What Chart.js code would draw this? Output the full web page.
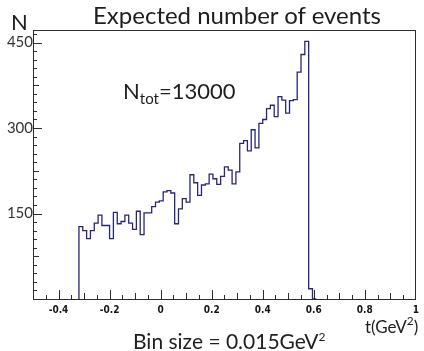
<!DOCTYPE html>
<html>
<head>
<meta charset="utf-8">
<script src="https://cdn.jsdelivr.net/npm/chart.js@4"></script>
<style>
body { margin: 0; background: #fff; }
#wrap { position: relative; width: 424px; height: 351px; font-family: Lato, sans-serif; color: #1e1e1e; }
#wrap canvas { position: absolute; left: 0; top: 0; }
#wrap .txt { position: absolute; white-space: nowrap; line-height: 1; }
#wrap sub { font-size: 15px; vertical-align: -5px; line-height: 0; }
#wrap sup { font-size: 12px; vertical-align: 8px; line-height: 0; }
</style>
</head>
<body>
<div id="wrap">
<canvas id="myChart" width="424" height="351"></canvas>
<div class="txt" style="left:93px; top:3px; font-size:24px;">Expected number of events</div>
<div class="txt" style="left:11px; top:11px; font-size:22px;">N</div>
<div class="txt" style="left:123px; top:80px; font-size:22px;">N<sub>tot</sub>=13000</div>
<div class="txt" style="left:365px; top:318px; font-size:17px;">t(GeV<sup>2</sup>)</div>
<div class="txt" style="left:133px; top:330px; font-size:21px;">Bin size = 0.015GeV<sup>2</sup></div>
</div>
<script>
var ctx = document.getElementById("myChart").getContext('2d');

// histogram: first bin low edge, bin width, entries per bin
var binStart = -0.32;
var binWidth = 0.015;
var counts = [
    93, 127, 120, 106, 120, 133, 147, 129, 129, 106,
    152, 132, 136, 147, 133, 122, 154, 113, 151, 151,
    162, 170, 172, 188, 190, 186, 132, 158, 176, 170,
    218, 204, 182, 200, 202, 219, 211, 201, 215, 232,
    226, 202, 223, 273, 278, 260, 297, 265, 308, 315,
    334, 340, 320, 355, 349, 326, 348, 350, 398, 429,
    452, 18
];

var xTickLabels = [-0.4, -0.2, 0, 0.2, 0.4, 0.6, 0.8, 1];
var yTickLabels = [150, 300, 450];

// outline points at the bin edges, closed down to zero at both ends
var points = [{x: binStart, y: 0}];
for (var i = 0; i < counts.length; i++) {
    points.push({x: binStart + i * binWidth, y: counts[i]});
}
points.push({x: binStart + counts.length * binWidth, y: 0});

// ROOT style frame with ticks pointing inwards
var frameTicks = {
    id: 'frameTicks',
    afterDatasetsDraw: function(chart) {
        var a = chart.chartArea;
        var xs = chart.scales.x;
        var ys = chart.scales.y;
        var c = chart.ctx;
        c.save();
        c.strokeStyle = '#2e2e2e';
        c.lineWidth = 1;
        c.beginPath();
        for (var v = 15; v < ys.max; v += 15) {
            var py = Math.round(ys.getPixelForValue(v)) + 0.5;
            var len = v % 150 === 0 ? 9 : (v % 75 === 0 ? 6 : 4);
            c.moveTo(a.left, py);
            c.lineTo(a.left + len, py);
        }
        for (var k = -9; k < 20; k++) {
            var px = Math.round(xs.getPixelForValue(k * 0.05)) + 0.5;
            var l = k % 4 === 0 ? 9 : (k % 2 === 0 ? 6 : 4);
            c.moveTo(px, a.bottom);
            c.lineTo(px, a.bottom - l);
        }
        c.stroke();
        c.strokeRect(Math.round(a.left) + 0.5, Math.round(a.top) + 0.5,
            Math.round(a.right - a.left) - 1, Math.round(a.bottom - a.top));
        c.restore();
    }
};

var myChart = new Chart(ctx, {
    type: 'line',
    data: {
        datasets: [{
            label: 'N',
            data: points,
            stepped: 'after',
            borderColor: '#26267a',
            borderWidth: 1.3,
            pointRadius: 0,
            fill: false
        }]
    },
    options: {
        responsive: false,
        animation: false,
        layout: {
            padding: {left: 0, right: 3, top: 30, bottom: 32}
        },
        plugins: {
            legend: {display: false},
            tooltip: {enabled: false}
        },
        scales: {
            x: {
                type: 'linear',
                min: -0.5,
                max: 1.0,
                afterBuildTicks: function(s) {
                    s.ticks = xTickLabels.map(function(v) { return {value: v}; });
                },
                afterFit: function(s) { s.height = 20; },
                grid: {display: false, drawTicks: false},
                border: {display: false},
                ticks: {
                    autoSkip: false,
                    maxRotation: 0,
                    padding: 5,
                    color: '#151515',
                    font: {family: "'Liberation Sans Narrow', 'DejaVu Sans Condensed', sans-serif", size: 10, weight: 'bold'},
                    callback: function(v) { return String(v); }
                }
            },
            y: {
                min: 0,
                max: 472,
                afterBuildTicks: function(s) {
                    s.ticks = yTickLabels.map(function(v) { return {value: v}; });
                },
                afterFit: function(s) { s.width = 33; },
                grid: {display: false, drawTicks: false},
                border: {display: false},
                ticks: {
                    padding: 0,
                    color: '#333',
                    font: {family: 'Lato', size: 15}
                }
            }
        }
    },
    plugins: [frameTicks]
});
</script>
</body>
</html>
